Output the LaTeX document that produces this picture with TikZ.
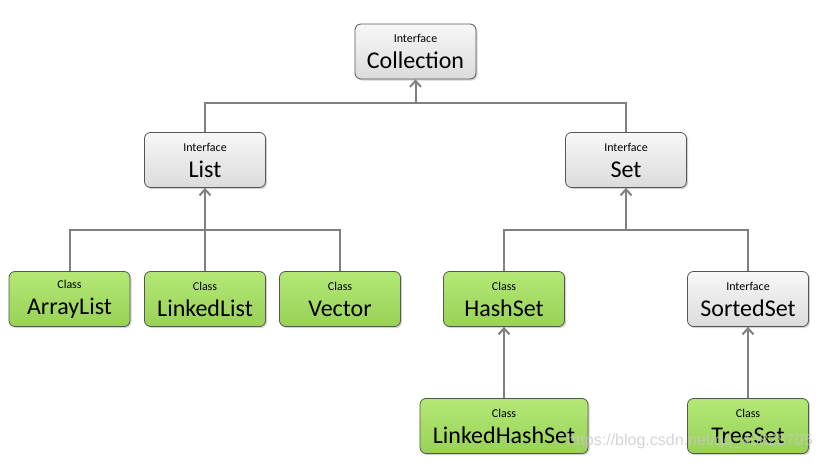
\documentclass[tikz,border=0pt]{standalone}
\usepackage{fontspec}
\setmainfont{Carlito}
\newfontfamily\markfont{Liberation Sans}
\usetikzlibrary{arrows.meta,shadows}

\definecolor{ClassGreen}{RGB}{166,228,94}
\definecolor{BoxEdge}{RGB}{85,85,85}
\definecolor{WireGray}{RGB}{128,128,128}

% kind line + name line inside a box
\def\BoxText#1#2{#1\\\fontsize{24}{26}\selectfont #2}

\begin{document}
\begin{tikzpicture}[
          % Environment Config: 1 unit = 1 pixel, y downwards
          x=1pt, y=-1pt,
          Box/.style={% Common style for all boxes
            draw=BoxEdge,
            line width=0.8pt,
            rounded corners=6pt,
            minimum width=121pt,
            minimum height=55pt,
            inner sep=0pt,
            align=center,
            font=\fontsize{12}{26}\selectfont,
            drop shadow={shadow xshift=1.5pt, shadow yshift=-1.5pt, opacity=0.35}
          },
          IfaceBox/.style={% Style for interfaces
            Box,
            top color=gray!6,
            bottom color=gray!28
          },
          ClassBox/.style={% Style for classes
            Box,
            top color=ClassGreen!85!white,
            bottom color=ClassGreen!92!black
          },
          Wire/.style={% Plain connector
            draw=WireGray,
            line width=2pt
          },
          MyArrow/.style={% Connector ending at the parent
            Wire,
            -{Straight Barb[length=6pt,width=11pt,line width=2pt]}
          }
        ]

        \useasboundingbox (0,0) rectangle (820,466);

        % Interfaces
        \node[IfaceBox] (Collection) at (415.5,51.5) {\BoxText{Interface}{Collection}};
        \node[IfaceBox] (List) at (205,160) {\BoxText{Interface}{List}};
        \node[IfaceBox] (Set) at (626,160) {\BoxText{Interface}{Set}};
        \node[IfaceBox] (SortedSet) at (748,299) {\BoxText{Interface}{SortedSet}};

        % Classes
        \node[ClassBox] (ArrayList) at (69.5,299) {\BoxText{Class}{ArrayList}};
        \node[ClassBox] (LinkedList) at (205,299) {\BoxText{Class}{LinkedList}};
        \node[ClassBox] (Vector) at (340,299) {\BoxText{Class}{Vector}};
        \node[ClassBox] (HashSet) at (504,299) {\BoxText{Class}{HashSet}};
        \node[ClassBox, minimum width=168pt] (LinkedHashSet) at (504,426) {\BoxText{Class}{LinkedHashSet}};
        \node[ClassBox] (TreeSet) at (748,426) {\BoxText{Class}{TreeSet}};

        % Joints of the connectors
        \coordinate (TopJoin) at (415.5,103);
        \coordinate (ListJoin) at (205,230);
        \coordinate (SetJoin) at (626,230);

        % Draw the connectors
        %===Collection===
        \draw[Wire]
        (List.north)
            |- (TopJoin)
            -| (Set.north);
        \draw[MyArrow] (TopJoin) -- (Collection.south);

        %===List===
        \draw[Wire]
        (ArrayList.north)
            |- (ListJoin)
            -| (Vector.north);
        \draw[MyArrow] (LinkedList.north) -- (List.south);

        %===Set===
        \draw[Wire]
        (HashSet.north)
            |- (SetJoin)
            -| (SortedSet.north);
        \draw[MyArrow] (SetJoin) -- (Set.south);

        %===Subclasses===
        \draw[MyArrow] (LinkedHashSet.north) -- (HashSet.south);
        \draw[MyArrow] (TreeSet.north) -- (SortedSet.south);

        % Watermark
        \node[text=gray!45, opacity=0.75, inner sep=0pt, anchor=west] (Watermark)
            at (567,441) {\markfont\fontsize{16}{16}\selectfont https://blog.csdn.net/qq\_40828705};

        \end{tikzpicture}
\end{document}
